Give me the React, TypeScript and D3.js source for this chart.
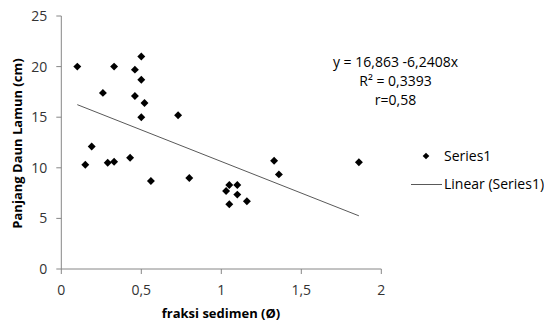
import * as d3 from "d3"

const fraksi = [0.1, 0.15, 0.19, 0.26, 0.29, 0.33, 0.33, 0.43, 0.46, 0.46, 0.5, 0.5, 0.5, 0.52, 0.73, 0.56, 0.8, 1.03, 1.05, 1.1, 1.1, 1.05, 1.16, 1.33, 1.36, 1.86]
const panjang = [20, 10.3, 12.1, 17.4, 10.5, 10.6, 20, 11, 19.7, 17.1, 21, 18.7, 15, 16.4, 15.2, 8.7, 9.0, 7.7, 8.3, 8.3, 7.35, 6.4, 6.7, 10.7, 9.35, 10.55]
const xTicks = [0, 0.5, 1, 1.5, 2]
const yTicks = [0, 5, 10, 15, 20, 25]
const fitA = 16.863, fitB = -6.2408
const eqLines = ["y = 16,863 -6,2408x", "R² = 0,3393", "r=0,58"]

const W = 544, H = 325
const FONT = "'Open Sans', sans-serif"
const AXIS = "#868686"

export default function App() {
  const x = d3.scaleLinear().domain([0, 2]).range([61.3, 381.3])
  const y = d3.scaleLinear().domain([0, 25]).range([269, 16])
  const fmt = (v: number) => String(v).replace(".", ",")
  const pts = fraksi.map((f, i) => [f, panjang[i]] as [number, number])
  const xMin = d3.min(fraksi)!, xMax = d3.max(fraksi)!
  const fit = d3.line<number>().x(d => x(d)).y(d => y(fitA + fitB * d))
  const diamond = d3.symbol().type(d3.symbolDiamond2)

  return (
    <svg width={W} height={H} style={{ position: "absolute", left: 0, top: 0, background: "#fff", fontFamily: FONT }}>
      {/* axes */}
      <line x1={x(0)} x2={x(0)} y1={y(0)} y2={y(25)} stroke={AXIS} />
      {yTicks.map(t => (
        <g key={t}>
          <line x1={x(0) - 5} x2={x(0)} y1={y(t)} y2={y(t)} stroke={AXIS} />
          <text x={x(0) - 14} y={y(t)} dy="0.35em" textAnchor="end" fontSize={14} fill="#333">{t}</text>
        </g>
      ))}
      <line x1={x(0)} x2={x(2)} y1={y(0)} y2={y(0)} stroke={AXIS} />
      {xTicks.map(t => (
        <g key={t}>
          <line x1={x(t)} x2={x(t)} y1={y(0)} y2={y(0) + 5} stroke={AXIS} />
          <text x={x(t)} y={295} textAnchor="middle" fontSize={14} fill="#333">{fmt(t)}</text>
        </g>
      ))}

      {/* trendline */}
      <path d={fit([xMin, xMax])!} stroke="#595959" strokeWidth={1} fill="none" />

      {/* points */}
      {pts.map(([a, b], i) => (
        <path key={i} d={diamond.size(40)()!} transform={`translate(${x(a)},${y(b)})`} fill="#000" />
      ))}

      {/* equation */}
      {eqLines.map((s, i) => (
        <text key={s} x={395.5} y={62 + i * 19} dy="0.35em" textAnchor="middle" fontSize={14} fill="#000">{s}</text>
      ))}

      {/* axis titles */}
      <text transform={`translate(22,${y(12.5) + 1}) rotate(-90)`} textAnchor="middle" fontSize={13} fontWeight="bold" fill="#000">
        Panjang Daun Lamun (cm)
      </text>
      <text x={221} y={318} textAnchor="middle" fontSize={13} fontWeight="bold" fill="#000">fraksi sedimen (Ø)</text>

      {/* legend */}
      <path d={diamond.size(28)()!} transform="translate(426,156)" fill="#000" />
      <text x={444} y={156} dy="0.35em" fontSize={14} fill="#000">Series1</text>
      <line x1={411} x2={442} y1={184.5} y2={184.5} stroke="#595959" />
      <text x={444} y={184.5} dy="0.35em" fontSize={14} fill="#000">Linear (Series1)</text>
    </svg>
  )
}
